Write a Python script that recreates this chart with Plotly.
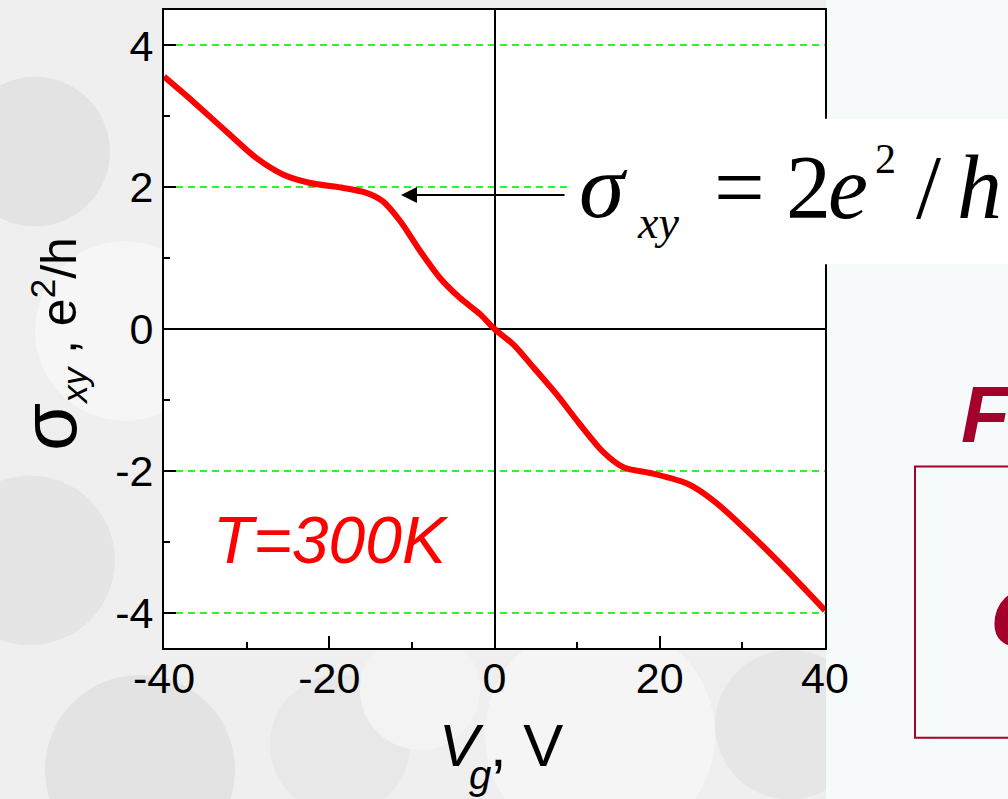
import plotly.graph_objects as go

# Hall conductivity of graphene vs. gate voltage at room temperature
vg = [-40, -36.5, -32.4, -28.8, -25.6, -22.3, -18.3, -15.5, -13.5, -11.4, -9.0,
      -6.6, -4.2, -1.75, 0.0, 2.3, 4.7, 7.5, 10.3, 13.2, 15.6, 19.2, 23.3, 26.5,
      30.5, 34.6, 40]
sigma_xy = [3.56, 3.21, 2.78, 2.41, 2.18, 2.06, 1.99, 1.92, 1.80, 1.52, 1.10,
            0.72, 0.44, 0.21, 0.0, -0.22, -0.54, -0.92, -1.34, -1.74, -1.95, -2.04,
            -2.18, -2.42, -2.84, -3.31, -3.97]

x_ticks = [-40, -20, 0, 20, 40]
x_tick_text = ["-40", "-20", "0", "20", "40"]
y_ticks = [-4, -2, 0, 2, 4]
y_tick_text = ["-4", "-2", "0", "2", "4"]

W, H = 1008, 799
L, R, T, B = 164, 825, 8, 648  # plot frame in page pixels

def px(xp):
    return (xp - L) / (R - L)

def py(yp):
    return (B - yp) / (B - T)

SANS = "Liberation Sans, Arial, sans-serif"
SERIF = "Liberation Serif, Times New Roman, serif"
DARK_RED = "#a3002b"

fig = go.Figure()
fig.add_trace(go.Scatter(
    x=vg, y=sigma_xy, mode="lines",
    line=dict(color="#ff0000", width=6, shape="spline", smoothing=0.8),
    showlegend=False, hoverinfo="skip",
))

axis_common = dict(
    showline=True, linecolor="black", linewidth=2, mirror=True,
    ticks="inside", ticklen=12, tickwidth=2, tickcolor="black",
    zeroline=True, zerolinecolor="black", zerolinewidth=2,
    tickfont=dict(family=SANS, size=43, color="black"),
)

fig.update_xaxes(
    range=[-40, 40], tickvals=x_ticks, ticktext=x_tick_text, showgrid=False,
    minor=dict(dtick=10, ticks="inside", ticklen=6, tickwidth=2, tickcolor="black", showgrid=False),
    ticklabelstandoff=-9, **axis_common,
)
fig.update_yaxes(
    range=[-4.5, 4.5], tickvals=y_ticks, ticktext=y_tick_text,
    showgrid=True, gridcolor="#2cf52c", gridwidth=2, griddash="7px,5px",
    minor=dict(dtick=1, ticks="inside", ticklen=6, tickwidth=2, tickcolor="black", showgrid=False),
    ticklabelstandoff=0, **axis_common,
)

# soft grey background blobs around the frame
blobs = [
    (35, 150, 75, "#e3e3e3"), (125, 330, 90, "#f6f6f6"), (30, 560, 85, "#e5e5e5"),
    (140, 770, 95, "#e3e3e3"), (340, 745, 70, "#e8e8e8"), (600, 735, 115, "#f5f5f5"),
    (790, 725, 75, "#e6e6e6"), (420, 690, 60, "#f3f3f3"),
]
shapes = []
for cx, cy, r, col in blobs:
    shapes.append(dict(type="circle", xref="paper", yref="paper",
                       x0=px(cx - r), x1=px(cx + r), y0=py(cy + r), y1=py(cy - r),
                       fillcolor=col, line=dict(width=0), layer="below"))
# pale panel on the right of the figure
shapes.append(dict(type="rect", xref="paper", yref="paper",
                   x0=px(R + 1), x1=px(W + 5), y0=py(H + 5), y1=py(-5),
                   fillcolor="#f6fafa", line=dict(width=0), layer="below"))
# white plotting area
shapes.append(dict(type="rect", xref="x domain", yref="y domain",
                   x0=0, x1=1, y0=0, y1=1, fillcolor="white",
                   line=dict(width=0), layer="below"))
# white box behind the formula
shapes.append(dict(type="rect", xref="paper", yref="paper",
                   x0=px(568), x1=px(W + 5), y0=py(263), y1=py(117),
                   fillcolor="white", line=dict(width=0), layer="above"))
# dark red frame at the right edge
shapes.append(dict(type="rect", xref="paper", yref="paper",
                   x0=px(915), x1=px(W + 20), y0=py(738), y1=py(466),
                   fillcolor="rgba(0,0,0,0)", line=dict(color=DARK_RED, width=2),
                   layer="above"))


def text_at(x_left, baseline, text, size, family, color="black", asc=0.3375):
    """Left-aligned text placed by its baseline in page pixels."""
    return dict(xref="paper", yref="paper", x=px(x_left), y=py(baseline - asc * size),
                xanchor="left", yanchor="middle", text=text, showarrow=False,
                borderpad=0, font=dict(family=family, size=size, color=color))


annotations = [
    # plateau arrow
    dict(xref="paper", yref="paper", x=px(401), y=py(193.5), ax=165, ay=0,
         text="", showarrow=True, arrowhead=2, arrowsize=1.6, arrowwidth=2,
         arrowcolor="black"),
    # formula sigma_xy = 2 e^2 / h
    text_at(578, 216, "<i>σ</i>", 92, SERIF),
    text_at(636, 237, "<i>xy</i>", 46, SERIF),
    text_at(713, 216, "=", 90, SERIF),
    text_at(785, 216, "2", 90, SERIF),
    text_at(827, 216, "<i>e</i>", 90, SERIF),
    text_at(874, 172, "2", 42, SERIF),
    text_at(915, 216, "/", 90, SERIF),
    text_at(956, 216, "<i>h</i>", 90, SERIF),
    # temperature label
    dict(xref="paper", yref="paper", x=px(331), y=py(540), xanchor="center", yanchor="middle",
         text="<i>T=300K</i>", showarrow=False,
         font=dict(family=SANS, size=66, color="#ff0000")),
    # y-axis title
    dict(xref="paper", yref="paper", x=px(50), y=py(343), xanchor="center", yanchor="middle",
         textangle=-90, showarrow=False,
         text="<span style='font-size:78px'>σ</span><sub><i>xy</i></sub> , e<sup>2</sup>/h",
         font=dict(family=SANS, size=50, color="black")),
    # x-axis title
    text_at(438, 767, "<i>V</i>", 60, SANS, asc=0.3465),
    text_at(468, 789, "<i>g</i>", 40, SANS, asc=0.3465),
    text_at(489, 767, ", V", 60, SANS, asc=0.3465),
    # slide text at the right edge
    text_at(960, 441, "<b><i>F</i></b>", 80, SANS, DARK_RED, asc=0.3465),
    text_at(990, 645, "<b><i>σ</i></b>", 110, SANS, DARK_RED, asc=0.3465),
]

fig.update_layout(
    width=W, height=H,
    margin=dict(l=L, r=W - R, t=T, b=H - B, pad=0),
    paper_bgcolor="#efefef", plot_bgcolor="white",
    shapes=shapes, annotations=annotations, showlegend=False,
)

fig.write_html("out.html")
